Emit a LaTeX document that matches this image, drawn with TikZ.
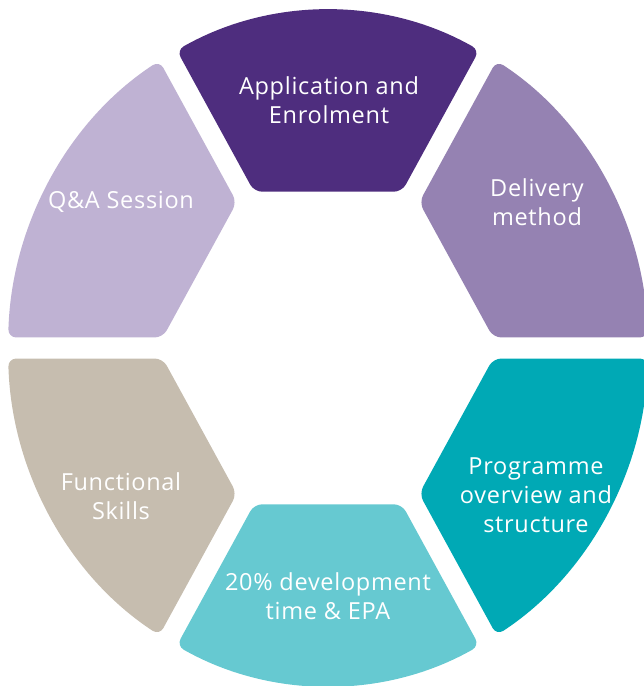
\documentclass[tikz,border=0pt]{standalone}
\usepackage{fontspec}
\setmainfont{Open Sans}[LetterSpace=3]
\usetikzlibrary{positioning}

\definecolor{appcol}{HTML}{4E2D7E}
\definecolor{delcol}{HTML}{9582B2}
\definecolor{progcol}{HTML}{00A9B5}
\definecolor{devcol}{HTML}{66C9D1}
\definecolor{funccol}{HTML}{C6BDAF}
\definecolor{qacol}{HTML}{BFB2D3}

\begin{document}
\begin{tikzpicture}[x=1pt, y=1pt,
  segment/.style={rounded corners=8pt},
  seglabel/.style={text=white, align=center, font=\fontsize{23.5}{29}\selectfont}]

\useasboundingbox (-328,-338) rectangle (316,348);

% ring pieces, one per step, turned round the centre
\begin{scope}[yscale=1.056]
\foreach \ang/\col in {0/appcol, -60/delcol, -120/progcol, -180/devcol, -240/funccol, -300/qacol}
  \fill[\col, rotate=\ang, segment] (-73.9,148) -- (73.9,148) -- (61.79:320)
      arc[start angle=61.79, end angle=118.21, radius=320] -- cycle;
\end{scope}

\node[seglabel] (app)  at (1,248)     {Application and\\Enrolment};
\node[seglabel] (del)  at (209,146)   {Delivery\\method};
\node[seglabel] (prog) at (208,-147)  {Programme\\overview and\\structure};
\node[seglabel] (dev)  at (0,-248)    {20\% development\\time \& EPA};
\node[seglabel] (func) at (-207,-148) {Functional\\Skills};
\node[seglabel] (qa)   at (-207,146)  {Q\&A Session};
\end{tikzpicture}
\end{document}
